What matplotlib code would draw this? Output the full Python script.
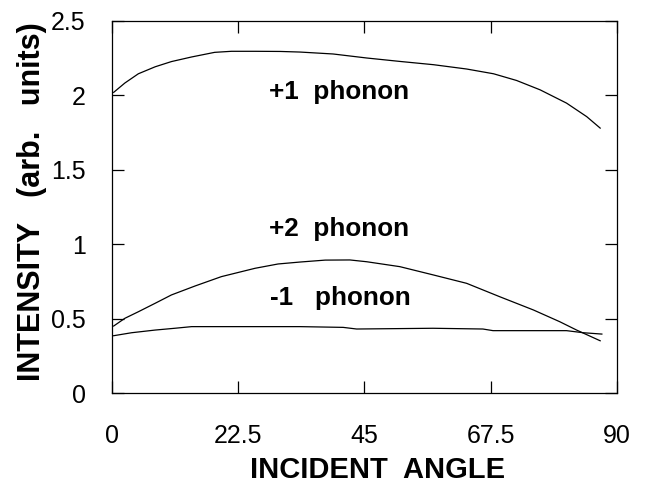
import matplotlib
matplotlib.use("Agg")
import matplotlib.pyplot as plt

plt.rcParams['font.family'] = ['Liberation Sans', 'DejaVu Sans']

# incident angle (deg) and intensity (arb. units)
angle_p1 = [0.3, 2.3, 4.7, 7.7, 10.6, 14.2, 18.3, 21.3, 25.5, 30.0, 33.5, 39.4, 45.4, 51.3, 57.3,
            63.2, 68.0, 72.1, 76.3, 81.0, 84.6, 87.0]
plus1 = [2.02, 2.083, 2.145, 2.192, 2.227, 2.258, 2.289, 2.296, 2.296, 2.295, 2.291, 2.278, 2.251,
         2.228, 2.206, 2.177, 2.145, 2.100, 2.037, 1.948, 1.857, 1.78]

angle_p2 = [0.3, 2.3, 4.7, 7.7, 10.6, 14.8, 19.5, 25.5, 29.6, 33.5, 38.0, 42.4, 45.4, 51.3, 57.3,
            63.2, 69.1, 75.1, 79.8, 82.8, 87.0]
plus2 = [0.450, 0.502, 0.546, 0.603, 0.659, 0.719, 0.782, 0.838, 0.867, 0.880, 0.893, 0.894, 0.882,
         0.849, 0.793, 0.737, 0.647, 0.558, 0.479, 0.423, 0.351]

angle_m1 = [0.3, 3.5, 7.7, 11.2, 14.2, 25.0, 33.5, 41.2, 43.6, 57.2, 66.1, 67.9, 81.0, 84.0, 87.3]
minus1 = [0.385, 0.405, 0.423, 0.435, 0.446, 0.446, 0.446, 0.441, 0.430, 0.435, 0.430, 0.419,
          0.419, 0.405, 0.396]

xticks = [0, 22.5, 45, 67.5, 90]
xticklabels = ["0", "22.5", "45", "67.5", "90"]
yticks = [0, 0.5, 1, 1.5, 2, 2.5]
yticklabels = ["0", "0.5", "1", "1.5", "2", "2.5"]

fig = plt.figure(figsize=(6.45, 4.87), dpi=100)
ax = fig.add_axes([0.1736, 0.193, 0.783, 0.764])

for x, y in [(angle_p1, plus1), (angle_p2, plus2), (angle_m1, minus1)]:
    ax.plot(x, y, color='black', lw=0.9)

ax.text(27.9, 1.977, "+1  phonon", fontsize=18.8, fontweight='bold', ha='left', va='baseline')
ax.text(27.9, 1.056, "+2  phonon", fontsize=18.8, fontweight='bold', ha='left', va='baseline')
ax.text(28.1, 0.590, "-1   phonon", fontsize=18.8, fontweight='bold', ha='left', va='baseline')

ax.set_xlim(0, 90)
ax.set_ylim(0, 2.5)
ax.set_xticks(xticks)
ax.set_xticklabels(xticklabels)
ax.set_yticks(yticks)
ax.set_yticklabels(yticklabels)
ax.tick_params(direction='in', length=8.5, width=0.9, top=True, right=True, labelsize=18)
ax.tick_params(axis='x', pad=22)
ax.tick_params(axis='y', pad=19)
for s in ax.spines.values():
    s.set_linewidth(0.9)

ax.set_xlabel("INCIDENT  ANGLE", fontsize=21, fontweight='bold')
ax.set_ylabel("INTENSITY   (arb.   units)", fontsize=22, fontweight='bold')
ax.xaxis.set_label_coords(0.525, -0.17)
ax.yaxis.set_label_coords(-0.128, 0.515)

fig.savefig("out.png", dpi=100)
